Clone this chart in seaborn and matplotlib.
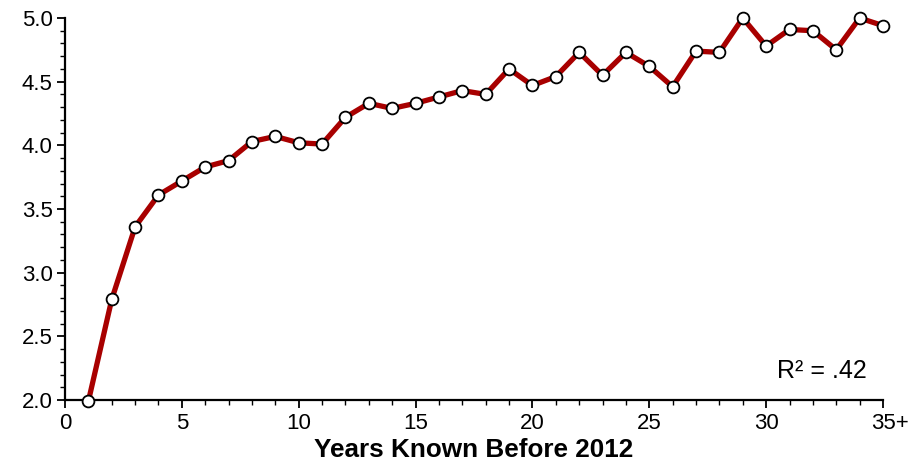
import matplotlib
matplotlib.use("Agg")
import matplotlib.pyplot as plt
import matplotlib.transforms as mtransforms
from matplotlib.ticker import MultipleLocator
import seaborn as sns
import pandas as pd

years = list(range(1, 36))
values = [1.99, 2.79, 3.36, 3.61, 3.72, 3.83, 3.88, 4.03, 4.07, 4.02,
          4.01, 4.22, 4.33, 4.29, 4.33, 4.38, 4.43, 4.40, 4.60, 4.47,
          4.54, 4.73, 4.55, 4.73, 4.62, 4.46, 4.74, 4.73, 5.00, 4.78,
          4.91, 4.90, 4.75, 5.00, 4.94]
xtick_values = [0, 5, 10, 15, 20, 25, 30, 35]
xtick_labels = ["0", "5", "10", "15", "20", "25", "30", "35+"]
ytick_values = [2.0, 2.5, 3.0, 3.5, 4.0, 4.5, 5.0]
ytick_labels = ["2.0", "2.5", "3.0", "3.5", "4.0", "4.5", "5.0"]
x_label = "Years Known Before 2012"
r2_text = "R² = .42"

df = pd.DataFrame({"years": years, "value": values})

sns.set_style("ticks")
plt.rcParams["font.family"] = ["Liberation Sans", "DejaVu Sans"]
plt.rcParams["text.color"] = "black"
plt.rcParams["axes.labelcolor"] = "black"

fig = plt.figure(figsize=(9.22, 4.69), dpi=100)
ax = fig.add_axes([65 / 922, (469 - 400) / 469, (883 - 65) / 922, (400 - 18) / 469])

sns.lineplot(data=df, x="years", y="value", ax=ax, color="#A80000",
             linewidth=3.8, marker="o", markersize=8.5,
             markerfacecolor="white", markeredgecolor="black",
             markeredgewidth=1.3, clip_on=False, zorder=3)

ax.set_xlim(0, 35)
ax.set_ylim(2.0, 5.0)
ax.set_xticks(xtick_values)
ax.set_xticklabels(xtick_labels)
ax.set_yticks(ytick_values)
ax.set_yticklabels(ytick_labels)
ax.xaxis.set_minor_locator(MultipleLocator(1))
ax.yaxis.set_minor_locator(MultipleLocator(0.1))

ax.tick_params(axis="both", which="major", length=6, width=1.3,
               labelsize=16, pad=3, color="black", labelcolor="black")
ax.tick_params(axis="both", which="minor", length=3.5, width=1.0, color="black")

for side in ["top", "right"]:
    ax.spines[side].set_visible(False)
for side in ["left", "bottom"]:
    ax.spines[side].set_linewidth(1.6)
    ax.spines[side].set_color("black")

# shift the "35+" label so that "35" sits centered on the tick
last = ax.get_xticklabels()[-1]
last.set_transform(last.get_transform() +
                   mtransforms.ScaledTranslation(7 / 100, 0, fig.dpi_scale_trans))

ax.set_xlabel(x_label, fontsize=18.8, fontweight="bold", labelpad=3, color="black")
ax.set_ylabel("")

ax.text(34.3, 2.225, r2_text, ha="right", va="center", fontsize=18, color="black")

fig.savefig("out.png", dpi=100)
